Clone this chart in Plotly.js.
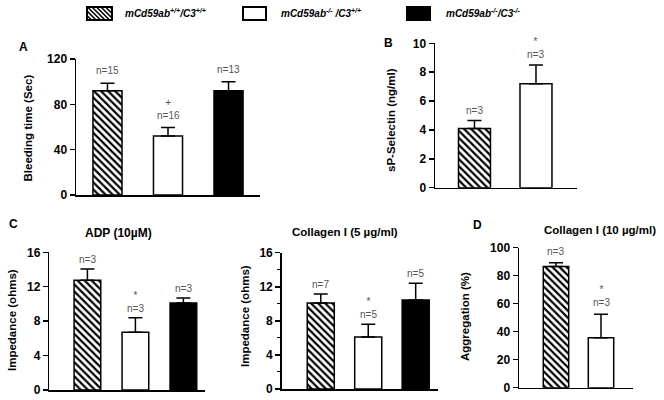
<!DOCTYPE html>
<html><head><meta charset="utf-8">
<script src="https://cdn.plot.ly/plotly-3.0.1.min.js"></script>
<style>html,body{margin:0;padding:0;background:#fff}#c{width:664px;height:400px}</style>
</head><body><div id="c"></div>
<script>
// ---- data ----
const groups = ['mCd59ab+/+/C3+/+', 'mCd59ab-/-/C3+/+', 'mCd59ab-/-/C3-/-'];
const legendLabels = ['mCd59ab<sup>+/+</sup>/C3<sup>+/+</sup>', 'mCd59ab<sup>-/-</sup> /C3<sup>+/+</sup>', 'mCd59ab<sup>-/-</sup>/C3<sup>-/-</sup>'];

const bleedMean = [92, 52, 92];
const bleedErr  = [6.5, 7.5, 8];
const bleedN    = ['n=15', 'n=16', 'n=13'];
const bleedSig  = ['', '+', ''];

const selectinMean = [4.1, 7.2];
const selectinErr  = [0.55, 1.3];
const selectinN    = ['n=3', 'n=3'];
const selectinSig  = ['', '*'];

const adpMean = [12.75, 6.7, 10.1];
const adpErr  = [1.3, 1.7, 0.6];
const adpN    = ['n=3', 'n=3', 'n=3'];
const adpSig  = ['', '*', ''];

const col5Mean = [10.1, 6.1, 10.45];
const col5Err  = [1.05, 1.5, 1.95];
const col5N    = ['n=7', 'n=5', 'n=5'];
const col5Sig  = ['', '*', ''];

const col10Mean = [86.5, 35.7];
const col10Err  = [2.8, 16.7];
const col10N    = ['n=3', 'n=3'];
const col10Sig  = ['', '*'];

// ---- styling helpers ----
const W = 664, H = 400;
const px = v => v / W;
const py = v => 1 - v / H;
const FONT = 'Liberation Sans, Arial, sans-serif';
const fills = ['white', 'white', 'black'];

const panels = [
  {ax: '',  mean: bleedMean,    err: bleedErr,    n: bleedN,    sig: bleedSig,    xd: [76, 260],    yd: [59, 195],     xr: [-0.52, 2.52],  yr: [0, 120], dt: 40, bw: 0.48, shift: 5},
  {ax: '2', mean: selectinMean, err: selectinErr, n: selectinN, sig: selectinSig, xd: [435, 577],   yd: [43.3, 187.7], xr: [-0.642, 1.667], yr: [0, 10], dt: 2, bw: 0.52, shift: 3},
  {ax: '3', mean: adpMean,      err: adpErr,      n: adpN,      sig: adpSig,      xd: [49.3, 205],  yd: [252.3, 390],  xr: [-0.794, 2.45], yr: [0, 16], dt: 4, bw: 0.556, shift: 2},
  {ax: '4', mean: col5Mean,     err: col5Err,     n: col5N,     sig: col5Sig,     xd: [281.7, 438], yd: [252.7, 389],  xr: [-0.823, 2.47], yr: [0, 16], dt: 4, bw: 0.57, shift: 2, minor: 2},
  {ax: '5', mean: col10Mean,    err: col10Err,    n: col10N,    sig: col10Sig,    xd: [519, 633],   yd: [247.7, 387.7], xr: [-0.822, 1.711], yr: [0, 100], dt: 20, bw: 0.565, shift: 4}
];

const data = [];
const layout = {
  width: W, height: H, margin: {l: 0, r: 0, t: 0, b: 0},
  paper_bgcolor: 'white', plot_bgcolor: 'rgba(0,0,0,0)',
  showlegend: false, barmode: 'overlay', font: {family: FONT, color: 'black'},
  annotations: [], shapes: []
};

panels.forEach(p => {
  const k = p.mean.length;
  const xs = groups.slice(0, k);
  for (let i = 0; i < k; i++) {
    const marker = {color: fills[i], line: {color: 'black', width: 1.5}};
    if (i === 0) marker.pattern = {shape: '\\', fgcolor: 'black', bgcolor: 'white', size: 5, solidity: 0.45, fillmode: 'replace'};
    data.push({
      type: 'bar', x: [xs[i]], y: [p.mean[i]],
      xaxis: 'x' + p.ax, yaxis: 'y' + p.ax,
      width: p.bw, opacity: 1,
      marker: marker,
      error_y: {type: 'data', symmetric: false, array: [p.err[i]], arrayminus: [0],
                color: 'black', thickness: 1.5, width: 7},
      hoverinfo: 'skip'
    });
  }
  layout['xaxis' + p.ax] = {
    domain: [px(p.xd[0]), px(p.xd[1])], anchor: 'y' + p.ax,
    type: 'category', categoryorder: 'array', categoryarray: xs, range: p.xr, showticklabels: false, ticks: '',
    showline: true, linecolor: 'black', linewidth: 1.5, showgrid: false, zeroline: false, fixedrange: true
  };
  const ya = {
    domain: [py(p.yd[1]), py(p.yd[0])], anchor: 'x' + p.ax,
    range: p.yr, dtick: p.dt, tick0: 0, ticks: 'outside', ticklen: 5, tickwidth: 1.5, tickcolor: 'black',
    tickfont: {family: FONT, size: 12, weight: 'bold', color: 'black'},
    showline: true, linecolor: 'black', linewidth: 1.5, showgrid: false, zeroline: false, fixedrange: true
  };
  if (p.minor) ya.minor = {dtick: p.minor, ticks: 'outside', ticklen: 3, tickwidth: 1, tickcolor: 'black', showgrid: false};
  layout['yaxis' + p.ax] = ya;
  for (let i = 0; i < k; i++) {
    layout.annotations.push({
      xref: 'x' + p.ax, yref: 'y' + p.ax, x: xs[i], y: p.mean[i] + p.err[i],
      yanchor: 'bottom', xanchor: 'center', yshift: p.shift, showarrow: false,
      text: p.sig[i] ? p.sig[i] + '<br>' + p.n[i] : p.n[i],
      font: {family: FONT, size: 10, color: '#555555'}
    });
  }
});

// panel letters, titles, axis titles
const ann = (x, y, text, size, extra) => Object.assign({
  xref: 'paper', yref: 'paper', x: px(x), y: py(y), text: text, showarrow: false,
  xanchor: 'center', yanchor: 'middle', font: {family: FONT, size: size, weight: 'bold', color: '#000000'}
}, extra || {});
layout.annotations.push(
  ann(23, 47, 'A', 12), ann(388, 43, 'B', 12), ann(14, 224, 'C', 12), ann(477, 225, 'D', 12),
  ann(118, 233, 'ADP (10\u00b5M)', 12), ann(345, 232, 'Collagen I (5 \u00b5g/ml)', 11.5), ann(600, 230, 'Collagen I (10 \u00b5g/ml)', 11.5),
  ann(28, 127.5, 'Bleeding time (Sec)', 11.5, {textangle: -90}),
  ann(391, 120, 'sP-Selectin (ng/ml)', 11.5, {textangle: -90}),
  ann(12, 320, 'Impedance (ohms)', 11.5, {textangle: -90}),
  ann(245, 316, 'Impedance (ohms)', 11.5, {textangle: -90}),
  ann(465, 317, 'Aggregation (%)', 11.5, {textangle: -90})
);

// legend (manual)
const sw = [[87, 112], [243, 266], [407, 430]];
const swY = [7, 20];
const txtX = [123, 279, 444];
for (let i = 0; i < 3; i++) {
  layout.shapes.push({type: 'rect', xref: 'paper', yref: 'paper',
    x0: px(sw[i][0]), x1: px(sw[i][1]), y0: py(swY[1]), y1: py(swY[0]),
    fillcolor: fills[i], line: {color: 'black', width: 2}});
  layout.annotations.push({xref: 'paper', yref: 'paper', x: px(txtX[i]), y: py(13.5), text: legendLabels[i],
    showarrow: false, xanchor: 'left', yanchor: 'middle',
    font: {family: FONT, size: 10, weight: 'bold', style: 'italic', color: 'black'}});
}
// hatch lines for the first legend swatch
(function () {
  const x0 = sw[0][0], x1 = sw[0][1], y0 = swY[0], y1 = swY[1], h = y1 - y0, s = 4.5;
  let path = '';
  for (let c = x0 - h; c < x1; c += s) {
    let ax = c, ay = y0, bx = c + h, by = y1;
    if (ax < x0) { ay = y0 + (x0 - ax); ax = x0; }
    if (bx > x1) { by = y1 - (bx - x1); bx = x1; }
    path += 'M' + px(ax) + ',' + py(ay) + 'L' + px(bx) + ',' + py(by);
  }
  layout.shapes.push({type: 'path', xref: 'paper', yref: 'paper', path: path, line: {color: 'black', width: 1.5}});
})();

Plotly.newPlot('c', data, layout, {staticPlot: true, displayModeBar: false});
</script>
</body></html>
